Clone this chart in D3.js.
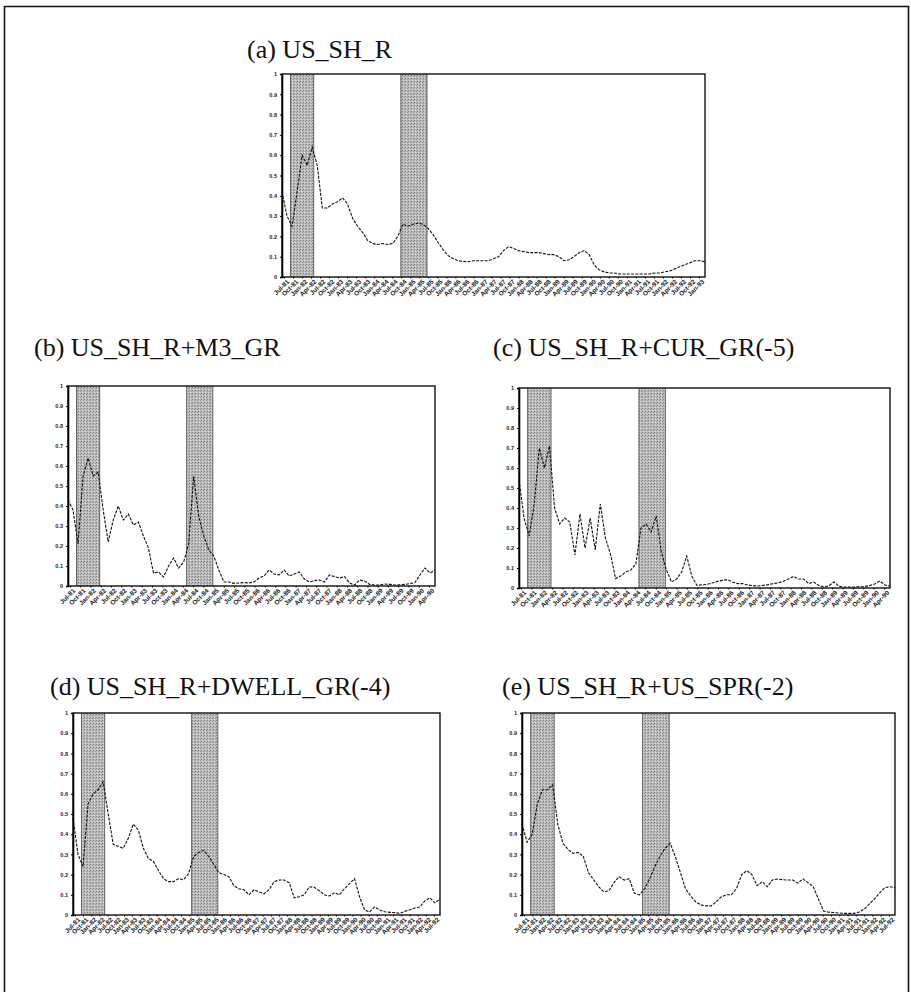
<!DOCTYPE html>
<html>
<head>
<meta charset="utf-8">
<script src="https://cdn.jsdelivr.net/npm/d3@7"></script>
<style>
    body { margin: 0; background: #fff; }
    svg { display: block; }
    .title { font-family: 'Liberation Serif', 'Times New Roman', serif; font-size: 26px; fill: #111; }
    .tick-y, .tick-x { font-family: 'Liberation Sans', Arial, sans-serif; font-weight: bold; fill: #222; }
</style>
</head>
<body>
<div id="chart"></div>
<script>
// smoothed probabilities, one value per period
const usShR = [0.42, 0.30, 0.25, 0.42, 0.60, 0.55, 0.64, 0.55, 0.34, 0.34,
    0.36, 0.37, 0.39, 0.36, 0.29, 0.25, 0.22, 0.18, 0.165, 0.16,
    0.165, 0.16, 0.165, 0.20, 0.26, 0.25, 0.26, 0.265, 0.26, 0.24,
    0.21, 0.17, 0.135, 0.105, 0.09, 0.08, 0.077, 0.075, 0.08, 0.08,
    0.08, 0.08, 0.09, 0.10, 0.13, 0.15, 0.14, 0.13, 0.125, 0.12,
    0.12, 0.12, 0.115, 0.11, 0.11, 0.10, 0.08, 0.085, 0.10, 0.12,
    0.13, 0.11, 0.06, 0.035, 0.025, 0.02, 0.02, 0.015, 0.015, 0.015,
    0.015, 0.015, 0.015, 0.015, 0.02, 0.02, 0.025, 0.03, 0.04, 0.05,
    0.06, 0.07, 0.08, 0.08, 0.075];

const usShRM3Gr = [0.43, 0.38, 0.21, 0.55, 0.64, 0.55, 0.57, 0.38, 0.22, 0.33,
    0.40, 0.33, 0.36, 0.305, 0.32, 0.25, 0.19, 0.065, 0.07, 0.045,
    0.10, 0.14, 0.09, 0.12, 0.21, 0.55, 0.35, 0.25, 0.18, 0.15,
    0.08, 0.02, 0.02, 0.013, 0.015, 0.017, 0.015, 0.02, 0.04, 0.05,
    0.08, 0.06, 0.055, 0.08, 0.05, 0.06, 0.07, 0.035, 0.02, 0.027,
    0.03, 0.02, 0.055, 0.047, 0.04, 0.047, 0.015, 0.005, 0.03, 0.025,
    0.008, 0.005, 0.005, 0.01, 0.008, 0.005, 0.006, 0.008, 0.012, 0.017,
    0.055, 0.09, 0.065, 0.08];

const usShRCurGr = [0.54, 0.35, 0.26, 0.42, 0.70, 0.60, 0.71, 0.40, 0.32, 0.35,
    0.33, 0.165, 0.37, 0.20, 0.35, 0.19, 0.42, 0.25, 0.17, 0.047,
    0.06, 0.08, 0.09, 0.12, 0.30, 0.32, 0.28, 0.36, 0.18, 0.09,
    0.03, 0.045, 0.08, 0.16, 0.06, 0.013, 0.016, 0.018, 0.025, 0.033,
    0.038, 0.042, 0.03, 0.022, 0.022, 0.015, 0.012, 0.01, 0.013, 0.017,
    0.022, 0.026, 0.033, 0.045, 0.058, 0.045, 0.045, 0.022, 0.03, 0.013,
    0.005, 0.012, 0.03, 0.008, 0.005, 0.005, 0.005, 0.006, 0.008, 0.012,
    0.02, 0.035, 0.015, 0.01];

const usShRDwellGr = [0.48, 0.30, 0.24, 0.55, 0.60, 0.62, 0.66, 0.50, 0.35, 0.34,
    0.33, 0.38, 0.45, 0.42, 0.33, 0.28, 0.265, 0.22, 0.18, 0.165,
    0.165, 0.18, 0.175, 0.205, 0.29, 0.31, 0.32, 0.29, 0.25, 0.21,
    0.20, 0.19, 0.145, 0.13, 0.125, 0.10, 0.125, 0.115, 0.105, 0.125,
    0.165, 0.173, 0.173, 0.16, 0.085, 0.09, 0.10, 0.14, 0.137, 0.12,
    0.10, 0.094, 0.11, 0.10, 0.13, 0.155, 0.18, 0.09, 0.025, 0.015,
    0.04, 0.025, 0.016, 0.013, 0.012, 0.008, 0.018, 0.026, 0.035, 0.04,
    0.07, 0.085, 0.06, 0.08];

const usShRUsSpr = [0.45, 0.36, 0.40, 0.55, 0.62, 0.62, 0.645, 0.45, 0.355, 0.325,
    0.305, 0.31, 0.29, 0.21, 0.175, 0.14, 0.115, 0.12, 0.16, 0.19,
    0.173, 0.18, 0.107, 0.10, 0.13, 0.18, 0.24, 0.29, 0.33, 0.355,
    0.29, 0.21, 0.13, 0.095, 0.065, 0.05, 0.045, 0.045, 0.065, 0.09,
    0.10, 0.10, 0.132, 0.20, 0.22, 0.20, 0.145, 0.165, 0.14, 0.173,
    0.178, 0.175, 0.173, 0.173, 0.158, 0.178, 0.16, 0.14, 0.08, 0.02,
    0.014, 0.012, 0.01, 0.008, 0.008, 0.008, 0.015, 0.03, 0.055, 0.08,
    0.11, 0.135, 0.14, 0.135];

// shaded periods, in the same period index as the series
const shadedPeriods = [[1.7, 6.3], [23.6, 28.8]];

const yTickValues = [0, 0.1, 0.2, 0.3, 0.4, 0.5, 0.6, 0.7, 0.8, 0.9, 1];
const yTickLabels = ["0", "0.1", "0.2", "0.3", "0.4", "0.5", "0.6", "0.7", "0.8", "0.9", "1"];

const periodLabels = ["Jul-81", "Oct-81", "Jan-82", "Apr-82", "Jul-82", "Oct-82", "Jan-83", "Apr-83",
    "Jul-83", "Oct-83", "Jan-84", "Apr-84", "Jul-84", "Oct-84", "Jan-85", "Apr-85",
    "Jul-85", "Oct-85", "Jan-86", "Apr-86", "Jul-86", "Oct-86", "Jan-87", "Apr-87",
    "Jul-87", "Oct-87", "Jan-88", "Apr-88", "Jul-88", "Oct-88", "Jan-89", "Apr-89",
    "Jul-89", "Oct-89", "Jan-90", "Apr-90", "Jul-90", "Oct-90", "Jan-91", "Apr-91",
    "Jul-91", "Oct-91", "Jan-92", "Apr-92", "Jul-92", "Oct-92", "Jan-93"];

const panels = [
    {title: "(a) US_SH_R", values: usShR, nLabels: 47,
        left: 282, right: 705, top: 74, bottom: 277, tx: 247, ty: 58},
    {title: "(b) US_SH_R+M3_GR", values: usShRM3Gr, nLabels: 36,
        left: 68, right: 435, top: 386, bottom: 586, tx: 34, ty: 356},
    {title: "(c) US_SH_R+CUR_GR(-5)", values: usShRCurGr, nLabels: 36,
        left: 519, right: 890, top: 388, bottom: 588, tx: 493, ty: 356},
    {title: "(d) US_SH_R+DWELL_GR(-4)", values: usShRDwellGr, nLabels: 45,
        left: 73, right: 440, top: 713, bottom: 915, tx: 50, ty: 695},
    {title: "(e) US_SH_R+US_SPR(-2)", values: usShRUsSpr, nLabels: 45,
        left: 522, right: 895, top: 713, bottom: 915, tx: 502, ty: 695}
];

const width = 911, height = 992;

const svg = d3.select("#chart").append("svg")
    .attr("width", width)
    .attr("height", height);

// speckled grey for the shaded periods (looks like the scanned halftone)
const defs = svg.append("defs");
const pat = defs.append("pattern")
    .attr("id", "halftone")
    .attr("width", 3).attr("height", 3)
    .attr("patternUnits", "userSpaceOnUse");
pat.append("rect").attr("width", 3).attr("height", 3).attr("fill", "#bcbcbc");
pat.append("rect").attr("width", 1).attr("height", 1).attr("fill", "#7c7c7c");
pat.append("rect").attr("x", 2).attr("y", 1).attr("width", 1).attr("height", 1).attr("fill", "#969696");
pat.append("rect").attr("x", 1).attr("y", 2).attr("width", 1).attr("height", 1).attr("fill", "#dcdcdc");

// outer page frame
svg.append("path")
    .attr("d", "M4.5,996 V6.5 H908.5 V996")
    .attr("fill", "none")
    .attr("stroke", "#111")
    .attr("stroke-width", 1.6);

panels.forEach(p => {
    let g = svg.append("g");

    let x = d3.scaleLinear()
        .domain([0, p.values.length - 1])
        .range([p.left, p.right]);

    let y = d3.scaleLinear()
        .domain([0, 1])
        .range([p.bottom, p.top]);

    g.append("text")
        .attr("class", "title")
        .attr("x", p.tx)
        .attr("y", p.ty)
        .text(p.title);

    // shaded periods
    g.selectAll("rect.band")
        .data(shadedPeriods)
        .enter()
        .append("rect")
        .attr("class", "band")
        .attr("x", d => x(d[0]))
        .attr("y", p.top)
        .attr("width", d => x(d[1]) - x(d[0]))
        .attr("height", p.bottom - p.top)
        .attr("fill", "url(#halftone)");

    g.selectAll("line.bandEdge")
        .data(shadedPeriods.flat())
        .enter()
        .append("line")
        .attr("class", "bandEdge")
        .attr("x1", d => x(d)).attr("x2", d => x(d))
        .attr("y1", p.top).attr("y2", p.bottom)
        .attr("stroke", "#555")
        .attr("stroke-width", 0.9);

    // the probability line
    let line = d3.line()
        .x((d, i) => x(i))
        .y(d => y(d));

    g.append("path")
        .datum(p.values)
        .attr("d", line)
        .attr("fill", "none")
        .attr("stroke", "#111")
        .attr("stroke-width", 1.1)
        .attr("stroke-dasharray", "3 1.3");

    // plot box
    g.append("rect")
        .attr("x", p.left)
        .attr("y", p.top)
        .attr("width", p.right - p.left)
        .attr("height", p.bottom - p.top)
        .attr("fill", "none")
        .attr("stroke", "#111")
        .attr("stroke-width", 1.4);

    // y axis
    let yAxis = d3.axisLeft(y)
        .tickValues(yTickValues)
        .tickFormat((d, i) => yTickLabels[i])
        .tickSize(2)
        .tickPadding(3);

    let ya = g.append("g")
        .attr("transform", "translate(" + p.left + ",0)")
        .call(yAxis);
    ya.select(".domain").attr("stroke-width", 1.6);
    ya.selectAll("text")
        .attr("class", "tick-y")
        .style("font-size", "5.5px");

    // x axis with rotated period labels
    let labels = periodLabels.slice(0, p.nLabels);
    let xl = d3.scalePoint()
        .domain(labels)
        .range([p.left + 2, p.right - 6]);

    let xAxis = d3.axisBottom(xl)
        .tickSize(1.5)
        .tickPadding(2);

    let xa = g.append("g")
        .attr("transform", "translate(0," + p.bottom + ")")
        .call(xAxis);
    xa.select(".domain").remove();
    xa.selectAll("text")
        .attr("class", "tick-x")
        .style("font-size", "6.5px")
        .style("text-anchor", "end")
        .attr("dx", "0")
        .attr("dy", "0.6em")
        .attr("transform", "rotate(-45)");
});
</script>
</body>
</html>
